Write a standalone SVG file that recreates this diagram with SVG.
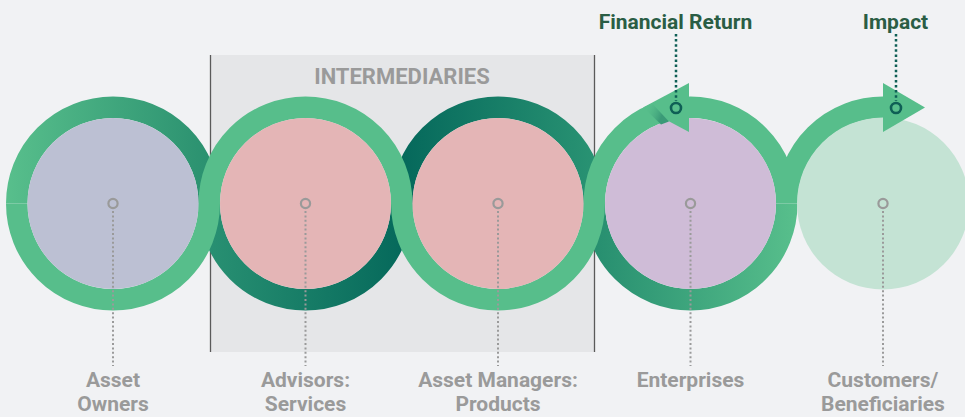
<svg xmlns="http://www.w3.org/2000/svg" width="965" height="417" viewBox="0 0 965 417">
  <style>
    .lbl{font-family:Roboto,"Liberation Sans",sans-serif;font-weight:700;font-size:21px;fill:#9a9a9a;text-anchor:middle}
    .top{font-family:Roboto,"Liberation Sans",sans-serif;font-weight:700;font-size:21px;fill:#2a5d44;text-anchor:middle}
    .ring{fill:none;stroke-width:21.5}
    .light{stroke:#57be8b}
    .dot{fill:none;stroke:#9a9a9a;stroke-width:2.2}
    .tdot{fill:none;stroke:#0e5f55;stroke-width:2.6}
    .gline{stroke:#9a9a9a;stroke-width:2;stroke-dasharray:2 2.4}
    .tline{stroke:#0e5f55;stroke-width:2.5;stroke-dasharray:2.5 2.6}
    .arrow{fill:#57be8b}
  </style>
  <defs>
    <linearGradient id="g1" gradientUnits="userSpaceOnUse" x1="6" y1="0" x2="220" y2="0">
      <stop offset="0" stop-color="#58bf8c"/>
      <stop offset="1" stop-color="#288e6e"/>
    </linearGradient>
    <linearGradient id="g2" gradientUnits="userSpaceOnUse" x1="199" y1="0" x2="412" y2="0">
      <stop offset="0" stop-color="#2a9273"/>
      <stop offset="1" stop-color="#04675a"/>
    </linearGradient>
    <linearGradient id="g3" gradientUnits="userSpaceOnUse" x1="391" y1="0" x2="605" y2="0">
      <stop offset="0" stop-color="#03665a"/>
      <stop offset="1" stop-color="#2b9574"/>
    </linearGradient>
    <linearGradient id="g4" gradientUnits="userSpaceOnUse" x1="584" y1="0" x2="797" y2="0">
      <stop offset="0" stop-color="#248c6e"/>
      <stop offset="1" stop-color="#58bf8c"/>
    </linearGradient>
    <linearGradient id="gs" gradientUnits="userSpaceOnUse" x1="648" y1="101" x2="665" y2="108">
      <stop offset="0" stop-color="#57be8b" stop-opacity="0"/>
      <stop offset="1" stop-color="#3a9a77"/>
    </linearGradient>
  </defs>
  <rect width="965" height="417" fill="#f1f2f4"/>

  <g id="intermediaries">
    <rect x="210" y="55" width="384.5" height="297" fill="#e5e6e8"/>
    <line x1="210.5" y1="55" x2="210.5" y2="352" stroke="#5a5a5a" stroke-width="1.3"/>
    <line x1="594.5" y1="55" x2="594.5" y2="352" stroke="#5a5a5a" stroke-width="1.3"/>
    <text x="402" y="84" class="lbl" style="font-size:22px">INTERMEDIARIES</text>
  </g>

  <g id="connectors">
    <path class="ring" stroke="url(#g1)" d="M16.75 203.5 A96.25 96.25 0 0 1 209.25 203.5"/>
    <path class="ring" stroke="url(#g2)" d="M209.25 203.5 A96.25 96.25 0 0 0 401.75 203.5"/>
    <path class="ring" stroke="url(#g3)" d="M401.75 203.5 A96.25 96.25 0 0 1 594.25 203.5"/>
    <path class="ring" stroke="url(#g4)" d="M594.25 203.5 A96.25 96.25 0 0 0 786.75 203.5"/>
    <path class="ring light" d="M16.75 203.5 A96.25 96.25 0 0 0 209.25 203.5 A96.25 96.25 0 0 1 401.75 203.5 A96.25 96.25 0 0 0 594.25 203.5 A96.25 96.25 0 0 1 786.75 203.5 A96.25 96.25 0 0 1 884 107.25"/>
  </g>

  <g id="asset-owners">
    <circle cx="113" cy="203.5" r="85.5" fill="#bcc0d3"/>
    <circle cx="113" cy="203.5" r="4.6" class="dot"/>
    <line x1="113" y1="211" x2="113" y2="366" class="gline"/>
    <text x="113" y="387" class="lbl">Asset</text>
    <text x="113" y="411" class="lbl">Owners</text>
  </g>

  <g id="advisors">
    <circle cx="305.5" cy="203.5" r="85.5" fill="#e4b5b6"/>
    <circle cx="305.5" cy="203.5" r="4.6" class="dot"/>
    <line x1="305.5" y1="211" x2="305.5" y2="366" class="gline"/>
    <text x="305.5" y="387" class="lbl">Advisors:</text>
    <text x="305.5" y="411" class="lbl">Services</text>
  </g>

  <g id="asset-managers">
    <circle cx="498" cy="203.5" r="85.5" fill="#e4b5b6"/>
    <circle cx="498" cy="203.5" r="4.6" class="dot"/>
    <line x1="498" y1="211" x2="498" y2="366" class="gline"/>
    <text x="498" y="387" class="lbl">Asset Managers:</text>
    <text x="498" y="411" class="lbl">Products</text>
  </g>

  <g id="enterprises">
    <circle cx="690.5" cy="203.5" r="85.5" fill="#cfbcd7"/>
    <circle cx="690.5" cy="203.5" r="4.6" class="dot"/>
    <line x1="690.5" y1="211" x2="690.5" y2="366" class="gline"/>
    <text x="690.5" y="387" class="lbl">Enterprises</text>
  </g>

  <g id="customers">
    <circle cx="883" cy="203.5" r="86" fill="#c4e3d4"/>
    <circle cx="883" cy="203.5" r="4.6" class="dot"/>
    <line x1="883" y1="211" x2="883" y2="366" class="gline"/>
    <text x="883" y="387" class="lbl">Customers/</text>
    <text x="883" y="411" class="lbl">Beneficiaries</text>
  </g>

  <g id="financial-return">
    <polygon class="arrow" points="689,83 689,132 643,107.5"/>
    <polygon fill="url(#gs)" points="644,108 653,104.5 669,121.5 661,124.5"/>
    <line x1="676" y1="34" x2="676" y2="101" class="tline"/>
    <circle cx="676" cy="108" r="5" class="tdot"/>
    <text x="675.5" y="29" class="top">Financial Return</text>
  </g>

  <g id="impact">
    <polygon class="arrow" points="883,83 883,132 925,107.5"/>
    <line x1="896" y1="34" x2="896" y2="101" class="tline"/>
    <circle cx="896" cy="108" r="5" class="tdot"/>
    <text x="895.5" y="29" class="top">Impact</text>
  </g>
</svg>
